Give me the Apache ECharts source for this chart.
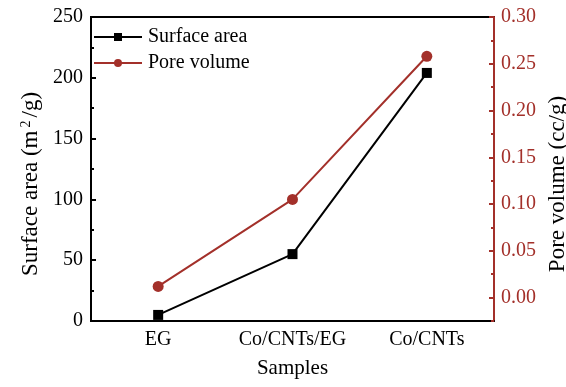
<!DOCTYPE html>
<html>
<head>
<meta charset="utf-8">
<script src="https://cdn.jsdelivr.net/npm/echarts@6/dist/echarts.min.js"></script>
<style>
  html, body { margin: 0; padding: 0; background: #ffffff; }
  #chart { width: 566px; height: 387px; }
</style>
</head>
<body>
<div id="chart"></div>
<script>
// Samples measured
var samples = ['EG', 'Co/CNTs/EG', 'Co/CNTs'];
// BET surface area, m²/g
var surfaceArea = [5, 55, 204];
// Pore volume, cc/g
var poreVolume = [0.012, 0.105, 0.258];
// Right-axis tick values
var poreMajorTicks = [0, 0.05, 0.10, 0.15, 0.20, 0.25, 0.30];
var poreMinorTicks = [-0.025, 0.025, 0.075, 0.125, 0.175, 0.225, 0.275];

var RED = '#a3302a';
var FONT = '"Liberation Serif", "Times New Roman", serif';

var chart = echarts.init(document.getElementById('chart'), null, { renderer: 'canvas' });

chart.setOption({
  animation: false,
  backgroundColor: '#ffffff',
  textStyle: { fontFamily: FONT },
  grid: {
    left: 91, right: 72, top: 17, bottom: 66,
    outerBoundsMode: 'none',
    containLabel: false,
    show: true, borderColor: '#000', borderWidth: 2, backgroundColor: 'transparent'
  },
  legend: {
    left: 88, top: 22, orient: 'vertical',
    itemWidth: 48, itemHeight: 10, itemGap: 6,
    textStyle: { fontFamily: FONT, fontSize: 20, color: '#000', padding: [0, 0, 0, 1] },
    data: ['Surface area', 'Pore volume']
  },
  xAxis: {
    type: 'category',
    data: samples,
    boundaryGap: true,
    name: 'Samples',
    nameLocation: 'middle',
    nameGap: 37,
    nameTextStyle: { fontFamily: FONT, fontSize: 21, color: '#000' },
    axisLine: { lineStyle: { color: '#000', width: 2 } },
    axisTick: { inside: true, alignWithLabel: true, length: 6, lineStyle: { color: '#000', width: 2 } },
    axisLabel: { interval: 0, fontFamily: FONT, fontSize: 20, color: '#000', margin: 9 },
    splitLine: { show: false }
  },
  yAxis: [
    {
      type: 'value',
      min: 0, max: 250, interval: 50,
      position: 'left',
      name: 'Surface area (m{sup|2}/g)',
      nameLocation: 'middle',
      nameGap: 48,
      nameTextStyle: {
        fontFamily: FONT, fontSize: 23, color: '#000',
        padding: [0, 30, 0, 0],
        rich: { sup: { fontFamily: FONT, fontSize: 14, color: '#000', verticalAlign: 'top', padding: [0, 3, 8, 3] } }
      },
      axisLine: { show: true, lineStyle: { color: '#000', width: 2 } },
      axisTick: { show: true, inside: true, length: 5, lineStyle: { color: '#000', width: 2 } },
      minorTick: { show: true, splitNumber: 2, length: 3, lineStyle: { color: '#000', width: 2 } },
      axisLabel: { fontFamily: FONT, fontSize: 20, color: '#000', margin: 8 },
      splitLine: { show: false }
    },
    {
      type: 'value',
      min: -0.025, max: 0.30,
      position: 'right',
      name: 'Pore volume (cc/g)',
      nameLocation: 'middle',
      nameGap: 52,
      nameRotate: 90,
      nameTextStyle: { fontFamily: FONT, fontSize: 23, color: '#000', padding: [0, 30, 0, 0] },
      axisLine: { show: true, lineStyle: { color: RED, width: 2 } },
      axisTick: { show: true, inside: true, length: 5, customValues: poreMajorTicks, lineStyle: { color: RED, width: 2 } },
      axisLabel: {
        fontFamily: FONT, fontSize: 20, color: RED, margin: 7,
        customValues: poreMajorTicks,
        formatter: function (v) { return v.toFixed(2); }
      },
      splitLine: { show: false }
    },
    {
      // minor ticks on the pore-volume axis
      type: 'value',
      min: -0.025, max: 0.30,
      position: 'right',
      axisLine: { show: false },
      axisTick: { show: true, inside: true, length: 3, customValues: poreMinorTicks, lineStyle: { color: RED, width: 2 } },
      axisLabel: { show: false },
      splitLine: { show: false }
    }
  ],
  series: [
    {
      name: 'Surface area',
      type: 'line',
      yAxisIndex: 0,
      data: surfaceArea,
      symbol: 'rect',
      symbolSize: 10,
      itemStyle: { color: '#000' },
      lineStyle: { color: '#000', width: 2 },
      z: 3
    },
    {
      name: 'Pore volume',
      type: 'line',
      yAxisIndex: 1,
      data: poreVolume,
      symbol: 'circle',
      symbolSize: 11,
      itemStyle: { color: RED },
      lineStyle: { color: RED, width: 2 },
      z: 3
    }
  ]
});
</script>
</body>
</html>
